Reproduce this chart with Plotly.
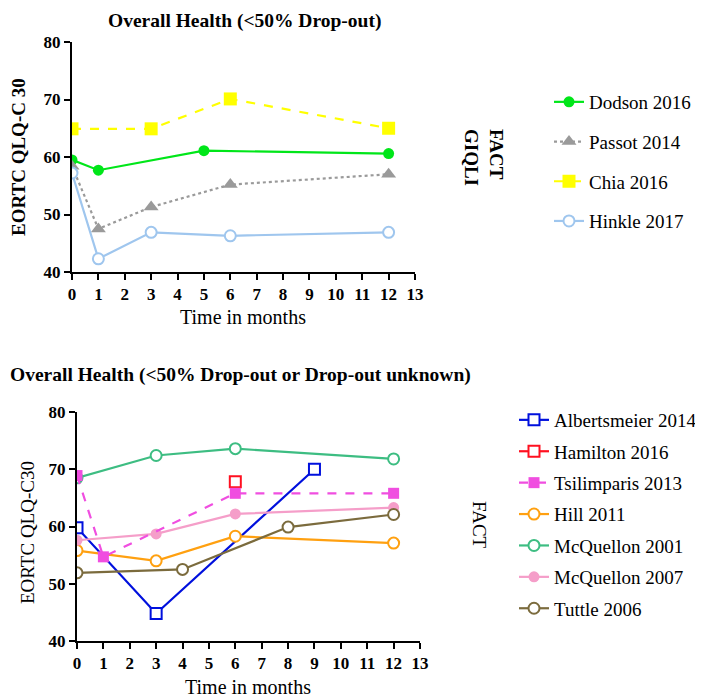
import plotly.graph_objects as go

FONT = "Liberation Serif"
PAGE_OFF = 8            # default page body margin in the browser
W, H = 703 - PAGE_OFF, 698 - PAGE_OFF

# ---------------- Top panel data (<50% Drop-out) ----------------
dodson_x = [0, 1, 5, 12]
dodson_y = [59.5, 57.7, 61.1, 60.6]
passot_x = [0, 1, 3, 6, 12]
passot_y = [58.4, 47.5, 51.3, 55.2, 57.0]
chia_x = [0, 3, 6, 12]
chia_y = [64.9, 64.9, 70.1, 65.0]
hinkle_x = [0, 1, 3, 6, 12]
hinkle_y = [57.2, 42.3, 46.9, 46.3, 46.9]

# ---------------- Bottom panel data ----------------
albert_x = [0, 3, 9]
albert_y = [59.8, 44.8, 70.0]
hamilton_x = [6]
hamilton_y = [67.8]
tsilim_x = [0, 1, 6, 12]
tsilim_y = [68.9, 54.7, 65.8, 65.8]
hill_x = [0, 3, 6, 12]
hill_y = [55.8, 54.0, 58.3, 57.1]
mcq01_x = [0, 3, 6, 12]
mcq01_y = [68.5, 72.4, 73.6, 71.8]
mcq07_x = [0, 3, 6, 12]
mcq07_y = [57.6, 58.7, 62.2, 63.3]
tuttle_x = [0, 4, 8, 12]
tuttle_y = [51.9, 52.5, 59.9, 62.1]

x_ticks = list(range(0, 14))
left_ticks = [40, 50, 60, 70, 80]
right_ticks = [80, 100, 120, 140]

fig = go.Figure()


def add(x, y, name, color, symbol, size, dash, xa, ya, legend, rank, fill=None, lw=2.2):
    fig.add_trace(go.Scatter(
        x=x, y=y, name=name, mode="lines+markers",
        line=dict(color=color, width=lw, dash=dash),
        marker=dict(symbol=symbol, size=size,
                    color=fill if fill else color,
                    line=dict(color=color, width=2 if fill else 0)),
        xaxis=xa, yaxis=ya, legend=legend, legendgroup=name, legendrank=rank,
    ))


# top panel
add(dodson_x, dodson_y, "Dodson 2016", "#00e619", "circle", 11, "solid", "x", "y", "legend", 1)
add(passot_x, passot_y, "Passot 2014", "#9a9a9a", "triangle-up", 13, "dot", "x", "y", "legend", 2)
add(chia_x, chia_y, "Chia 2016", "#ffff00", "square", 13, "dash", "x", "y", "legend", 3)
add(hinkle_x, hinkle_y, "Hinkle 2017", "#9fc6ee", "circle", 11, "solid", "x", "y", "legend", 4, fill="white")

# bottom panel
add(albert_x, albert_y, "Albertsmeier 2014", "#0010dd", "square", 11, "solid", "x2", "y3", "legend2", 1, fill="white")
add(hamilton_x, hamilton_y, "Hamilton 2016", "#ff1020", "square", 11, "solid", "x2", "y3", "legend2", 2, fill="white")
add(hill_x, hill_y, "Hill 2011", "#ffa010", "circle", 11, "solid", "x2", "y3", "legend2", 4, fill="white")
add(mcq01_x, mcq01_y, "McQuellon 2001", "#3dbd82", "circle", 11, "solid", "x2", "y3", "legend2", 5, fill="white")
add(mcq07_x, mcq07_y, "McQuellon 2007", "#f59ec9", "circle", 11, "solid", "x2", "y3", "legend2", 6)
add(tuttle_x, tuttle_y, "Tuttle 2006", "#7b6b3d", "circle", 11, "solid", "x2", "y3", "legend2", 7, fill="white")
add(tsilim_x, tsilim_y, "Tsilimparis 2013", "#f04ee0", "square", 11, "dash", "x2", "y3", "legend2", 3)


def px(v):
    return (v - PAGE_OFF) / W


def py(v):
    return 1 - (v - PAGE_OFF) / H


tickfont = dict(family=FONT, size=17, color="black", weight="bold")
axis_common = dict(showline=True, linewidth=2, linecolor="black", ticks="outside",
                   ticklen=6, tickwidth=2, tickcolor="black", showgrid=False,
                   zeroline=False, tickfont=tickfont, automargin=False)

fig.update_layout(
    width=W, height=H,
    margin=dict(l=0, r=0, t=0, b=0, pad=0, autoexpand=False),
    paper_bgcolor="white", plot_bgcolor="white",
    font=dict(family=FONT, color="black"),
    xaxis=dict(domain=[px(72), px(415)], range=[0, 13], tickvals=x_ticks,
               anchor="y", **axis_common),
    yaxis=dict(domain=[py(272), py(42)], range=[40, 80], tickvals=left_ticks,
               anchor="x", **axis_common),
    yaxis2=dict(domain=[py(272), py(42)], range=[70, 140], tickvals=right_ticks,
                overlaying="y", side="right", anchor="x", **axis_common),
    xaxis2=dict(domain=[px(77), px(420)], range=[0, 13], tickvals=x_ticks,
                anchor="y3", **axis_common),
    yaxis3=dict(domain=[py(641), py(412)], range=[40, 80], tickvals=left_ticks,
                anchor="x2", **axis_common),
    yaxis4=dict(domain=[py(641), py(412)], range=[70, 140], tickvals=right_ticks,
                overlaying="y3", side="right", anchor="x2", **axis_common),
    legend=dict(x=px(549), y=py(83), xanchor="left", yanchor="top",
                font=dict(family=FONT, size=19, color="black"),
                tracegroupgap=12, bgcolor="rgba(0,0,0,0)"),
    legend2=dict(x=px(514), y=py(401), xanchor="left", yanchor="top",
                 font=dict(family=FONT, size=19, color="black"),
                 tracegroupgap=3.7, bgcolor="rgba(0,0,0,0)"),
    showlegend=True,
)

ann = []
ann.append(dict(text="Overall Health (<50% Drop-out)", x=px(245), y=py(21),
                font=dict(size=19.5, weight="bold")))
ann.append(dict(text="EORTC QLQ-C 30", x=px(19), y=py(157), textangle=-90,
                font=dict(size=19, weight="bold")))
ann.append(dict(text="FACT<br>GIQLI", x=px(484), y=py(157), textangle=90, align="left",
                font=dict(size=19, weight="bold")))
ann.append(dict(text="Time in months", x=px(243), y=py(317), font=dict(size=20)))
ann.append(dict(text="Overall Health (<50% Drop-out or Drop-out unknown)", x=px(8), y=py(375),
                xanchor="left", font=dict(size=19.5, weight="bold")))
ann.append(dict(text="EORTC QLQ-C30", x=px(27), y=py(533), textangle=-90,
                font=dict(size=19)))
ann.append(dict(text="FACT", x=px(480), y=py(525), textangle=90, font=dict(size=19)))
ann.append(dict(text="Time in months", x=px(248), y=py(687), font=dict(size=20)))

for a in ann:
    a.setdefault("xanchor", "center")
    a.update(xref="paper", yref="paper", yanchor="middle", showarrow=False)
    a["font"] = dict(family=FONT, color="black", **a["font"])
fig.update_layout(annotations=ann)

fig.write_html("out.html")
